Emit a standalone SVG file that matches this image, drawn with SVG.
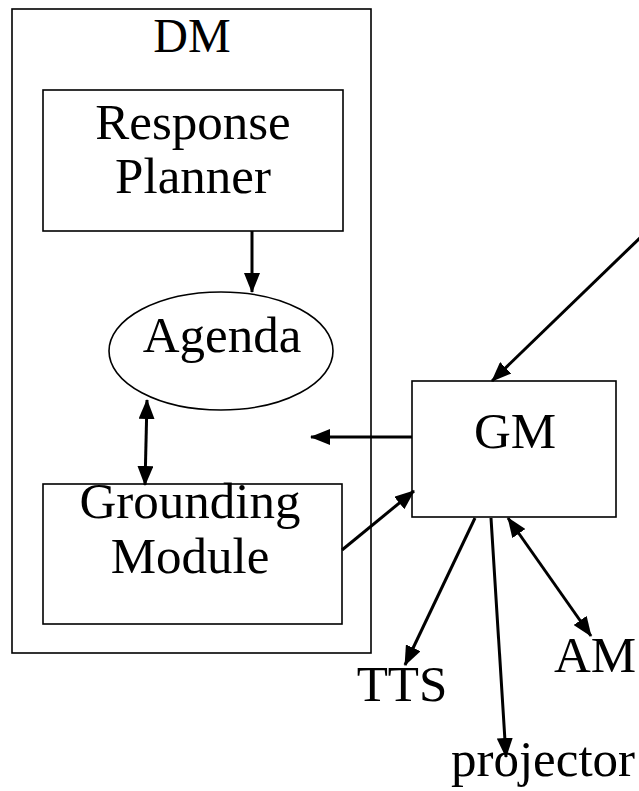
<svg xmlns="http://www.w3.org/2000/svg" width="639" height="791" viewBox="0 0 639 791">
<style>
.box{fill:none;stroke:#000;stroke-width:1.6}
.t{font-family:"Liberation Serif","Times New Roman",serif;font-size:51px;fill:#000;text-anchor:middle}
.c{stroke:#000;stroke-width:3;fill:none}
</style>
<defs>
<marker id="ah" markerUnits="userSpaceOnUse" markerWidth="20" markerHeight="16" viewBox="0 0 20 16" refX="19" refY="8" orient="auto-start-reverse">
<path d="M0,0 L20,8 L0,16 z" fill="#000"/>
</marker>
</defs>
<rect width="639" height="791" fill="#fff"/>
<g id="dm">
<rect class="box" x="12" y="9" width="359" height="644"/>
<text class="t" x="192" y="52" style="font-size:48px">DM</text>
</g>
<g id="response-planner">
<rect class="box" x="43" y="90" width="300" height="141"/>
<text class="t" x="193" y="139">Response</text>
<text class="t" x="193" y="193">Planner</text>
</g>
<g id="agenda">
<ellipse class="box" cx="221" cy="351" rx="112" ry="59"/>
<text class="t" x="222" y="352">Agenda</text>
</g>
<g id="grounding-module">
<rect class="box" x="43" y="484" width="299" height="140"/>
<text class="t" x="190" y="518">Grounding</text>
<text class="t" x="190" y="573">Module</text>
</g>
<g id="gm">
<rect class="box" x="412" y="381" width="204" height="136"/>
<text class="t" x="515" y="448">GM</text>
</g>
<g id="tts"><text class="t" x="402" y="701">TTS</text></g>
<g id="am"><text class="t" x="595" y="672">AM</text></g>
<g id="projector"><text class="t" x="543" y="776">projector</text></g>
<g id="connectors">
<line class="c" x1="252" y1="231" x2="252" y2="292" marker-end="url(#ah)"/>
<line class="c" x1="147" y1="400" x2="145" y2="485" marker-start="url(#ah)" marker-end="url(#ah)"/>
<line class="c" x1="412" y1="437" x2="311" y2="437" marker-end="url(#ah)"/>
<line class="c" x1="342" y1="550" x2="414" y2="491" marker-end="url(#ah)"/>
<line class="c" x1="645" y1="233" x2="492" y2="381" marker-end="url(#ah)"/>
<line class="c" x1="475" y1="518" x2="405" y2="665" marker-end="url(#ah)"/>
<line class="c" x1="491" y1="518" x2="506" y2="757" marker-end="url(#ah)"/>
<line class="c" x1="508" y1="518" x2="591" y2="636" marker-start="url(#ah)" marker-end="url(#ah)"/>
</g>
</svg>
